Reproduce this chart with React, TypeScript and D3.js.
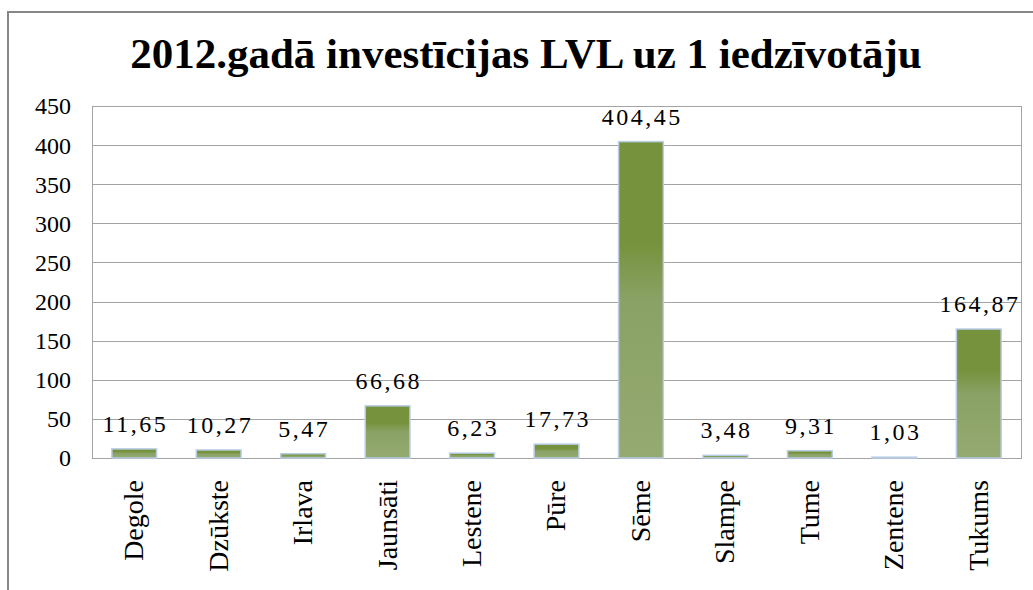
import * as d3 from "d3";

// pagasti un investīcijas LVL uz 1 iedzīvotāju
const categories: string[] = [
  "Degole", "Dzūkste", "Irlava", "Jaunsāti", "Lestene", "Pūre",
  "Sēme", "Slampe", "Tume", "Zentene", "Tukums",
];
const values: number[] = [11.65, 10.27, 5.47, 66.68, 6.23, 17.73, 404.45, 3.48, 9.31, 1.03, 164.87];
const valueLabels: string[] = [
  "11,65", "10,27", "5,47", "66,68", "6,23", "17,73",
  "404,45", "3,48", "9,31", "1,03", "164,87",
];
const yTicks: number[] = [0, 50, 100, 150, 200, 250, 300, 350, 400, 450];
const title = "2012.gadā investīcijas LVL uz 1 iedzīvotāju";

const W = 1033;
const H = 590;
const FONT = "Liberation Serif, Times New Roman, serif";

const plot = { left: 92, right: 1021, top: 106, bottom: 458 };

const x = d3
  .scaleBand<string>()
  .domain(categories)
  .range([plot.left, plot.right])
  .paddingInner(0.47)
  .paddingOuter(0.235);

const y = d3.scaleLinear().domain([0, 450]).range([plot.bottom, plot.top]);

const gradStops = [
  { o: "0%", c: "#76923c" },
  { o: "32%", c: "#76923c" },
  { o: "50%", c: "#8aa266" },
  { o: "100%", c: "#95aa70" },
];

const App = () => {
  return (
    <svg width={W} height={H} style={{ display: "block", position: "absolute", left: 0, top: 0 }} fontFamily={FONT}>
      <defs>
        <linearGradient id="barGrad" x1={0} y1={0} x2={0} y2={1}>
          {gradStops.map(s => (
            <stop key={s.o} offset={s.o} stopColor={s.c} />
          ))}
        </linearGradient>
      </defs>

      {/* rāmis */}
      <path d={`M8,${H} L8,12 L${W},12`} fill="none" stroke="#878787" strokeWidth={2} />

      <text x={526} y={68} textAnchor="middle" fontWeight="bold" fontSize={43}>
        {title}
      </text>

      {/* režģa līnijas */}
      {yTicks.map(t => (
        <line
          key={t}
          x1={plot.left}
          x2={plot.right}
          y1={Math.round(y(t)) + 0.5}
          y2={Math.round(y(t)) + 0.5}
          stroke="#a3a3a3"
        />
      ))}
      <rect
        x={plot.left + 0.5}
        y={plot.top + 0.5}
        width={plot.right - plot.left}
        height={plot.bottom - plot.top}
        fill="none"
        stroke="#a3a3a3"
      />

      {yTicks.map(t => (
        <text key={t} x={71} y={y(t)} dy="0.35em" textAnchor="end" fontSize={24}>
          {t}
        </text>
      ))}

      {/* stabiņi */}
      {values.map((v, i) => (
        <rect
          key={categories[i]}
          x={x(categories[i])}
          y={y(v)}
          width={x.bandwidth()}
          height={plot.bottom - y(v)}
          fill="url(#barGrad)"
          stroke="#b9cde5"
          strokeWidth={1.5}
        />
      ))}

      {values.map((v, i) => (
        <text
          key={categories[i]}
          x={(x(categories[i]) as number) + x.bandwidth() / 2 + 1.2}
          y={y(v) - 17}
          textAnchor="middle"
          fontSize={24}
          letterSpacing={2.5}
        >
          {valueLabels[i]}
        </text>
      ))}

      {categories.map(c => (
        <text
          key={c}
          transform={`translate(${(x(c) as number) + x.bandwidth() / 2}, 480) rotate(-90)`}
          dy="0.32em"
          textAnchor="end"
          fontSize={28}
        >
          {c}
        </text>
      ))}
    </svg>
  );
};

export default App;
